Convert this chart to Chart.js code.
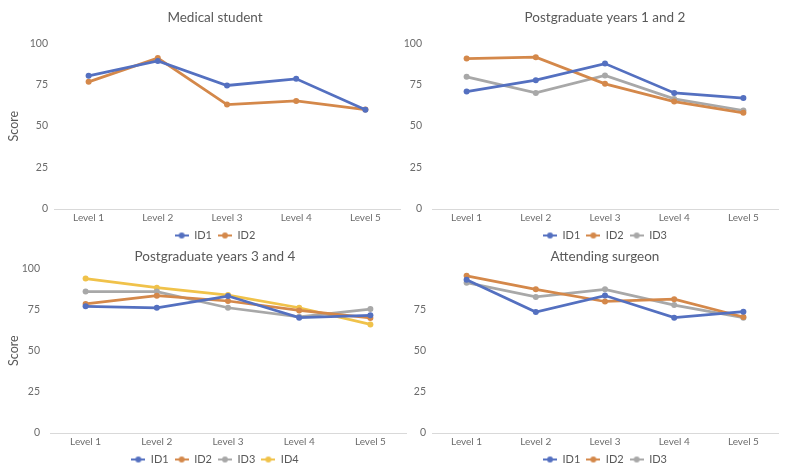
<!DOCTYPE html>
<html>
<head>
<meta charset="utf-8">
<script src="https://cdn.jsdelivr.net/npm/chart.js@4.4.1/dist/chart.umd.min.js"></script>
<style>
  html, body { margin: 0; padding: 0; background: #fff; overflow: hidden; }
  #wrap { position: relative; width: 800px; height: 473px; overflow: hidden; }
  canvas { position: absolute; }
</style>
</head>
<body>
<div id="wrap">
  <canvas id="c1" width="430" height="251" style="left:0;top:0"></canvas>
  <canvas id="c2" width="410" height="251" style="left:400px;top:0"></canvas>
  <canvas id="c3" width="430" height="236" style="left:0;top:239px"></canvas>
  <canvas id="c4" width="410" height="236" style="left:400px;top:239px"></canvas>
</div>
<script>
// Datos
const levels = ['Level 1', 'Level 2', 'Level 3', 'Level 4', 'Level 5'];
const yTicks = [0, 25, 50, 75, 100];

// Medical student
const msID1 = [80.3, 89.3, 74.5, 78.5, 59.8];
const msID2 = [76.7, 91.0, 63.0, 65.2, 60.0];

// Postgraduate years 1 and 2
const pg12ID1 = [70.8, 77.7, 87.7, 70.0, 66.9];
const pg12ID2 = [90.7, 91.6, 75.5, 64.8, 58.0];
const pg12ID3 = [79.7, 70.0, 80.5, 66.4, 59.4];

// Postgraduate years 3 and 4
const pg34ID1 = [76.9, 76.0, 83.1, 70.0, 71.4];
const pg34ID2 = [78.3, 83.3, 80.1, 74.4, 69.8];
const pg34ID3 = [85.8, 85.8, 76.0, 70.5, 75.2];
const pg34ID4 = [93.7, 88.2, 83.7, 76.0, 65.9];

// Attending surgeon
const atID1 = [93.0, 73.4, 83.4, 70.0, 73.6];
const atID2 = [95.4, 87.2, 79.8, 81.2, 70.4];
const atID3 = [91.2, 82.6, 87.2, 77.6, 70.0];

const colors = {
    ID1: '#5470C0',
    ID2: '#D4884A',
    ID3: '#A8A8A8',
    ID4: '#F0C24A'
};

const FONT = 'Lato, "Open Sans", sans-serif';

// Marcador de leyenda: línea corta con punto
function legendMarker(color) {
    const c = document.createElement('canvas');
    c.width = 14;
    c.height = 8;
    const g = c.getContext('2d');
    g.strokeStyle = color;
    g.lineWidth = 2;
    g.beginPath();
    g.moveTo(0, 4);
    g.lineTo(14, 4);
    g.stroke();
    g.fillStyle = color;
    g.beginPath();
    g.arc(7, 4, 3, 0, Math.PI * 2);
    g.fill();
    return c;
}

function makeDataset(label, data) {
    return {
        label: label,
        data: data,
        borderColor: colors[label],
        backgroundColor: colors[label],
        borderWidth: 2.75,
        pointRadius: 3,
        pointBorderWidth: 0,
        pointBackgroundColor: colors[label],
        tension: 0,
        fill: false
    };
}

function makePanel(id, title, series, cfg) {
    const ctx = document.getElementById(id);
    const datasets = Object.keys(series).map(k => makeDataset(k, series[k]));
    return new Chart(ctx, {
        type: 'line',
        data: { labels: levels, datasets: datasets },
        options: {
            responsive: false,
            animation: false,
            layout: { padding: 0 },
            plugins: {
                title: {
                    display: true,
                    text: title,
                    color: '#595959',
                    font: { family: FONT, size: 13.5, weight: 'normal' },
                    padding: { top: 10, bottom: cfg.titleBottom }
                },
                legend: {
                    position: 'bottom',
                    labels: {
                        usePointStyle: true,
                        pointStyleWidth: 14,
                        padding: 6,
                        color: '#595959',
                        font: { family: FONT, size: 11 },
                        generateLabels: chart => Chart.defaults.plugins.legend.labels
                            .generateLabels(chart)
                            .map(l => Object.assign(l, { pointStyle: legendMarker(colors[l.text]) }))
                    }
                },
                tooltip: { enabled: false }
            },
            scales: {
                x: {
                    offset: true,
                    grid: { display: false, drawTicks: false, offset: true },
                    border: { display: true, color: '#D9D9D9', width: 1 },
                    ticks: {
                        color: '#6B6B6B',
                        padding: 3,
                        maxRotation: 0,
                        font: { family: FONT, size: 10 }
                    },
                    afterFit: s => { s.height = 15; }
                },
                y: {
                    min: 0,
                    max: 100,
                    afterBuildTicks: s => { s.ticks = yTicks.map(v => ({ value: v })); },
                    grid: { display: false, drawTicks: false },
                    border: { display: false },
                    ticks: {
                        color: '#6B6B6B',
                        padding: cfg.tickPad,
                        font: { family: FONT, size: 10.5 },
                        callback: v => (cfg.hideTop && v === 100) ? '' : v
                    },
                    title: {
                        display: cfg.yTitle,
                        text: 'Score',
                        color: '#595959',
                        font: { family: FONT, size: 12.5 },
                        padding: { top: 6, bottom: 0 }
                    },
                    afterFit: s => { s.width = cfg.leftW; }
                },
                // eje invisible para centrar título y leyenda como en el original
                yR: {
                    position: 'right',
                    display: true,
                    grid: { display: false, drawTicks: false },
                    border: { display: false },
                    ticks: { display: false },
                    afterFit: s => { s.width = cfg.rightW; }
                }
            }
        }
    });
}

makePanel('c1', 'Medical student', { ID1: msID1, ID2: msID2 },
    { titleBottom: 17, tickPad: 6, leftW: 54, rightW: 30, yTitle: true, hideTop: false });

makePanel('c2', 'Postgraduate years 1 and 2', { ID1: pg12ID1, ID2: pg12ID2, ID3: pg12ID3 },
    { titleBottom: 17, tickPad: 10, leftW: 32, rightW: 32, yTitle: false, hideTop: false });

makePanel('c3', 'Postgraduate years 3 and 4', { ID1: pg34ID1, ID2: pg34ID2, ID3: pg34ID3, ID4: pg34ID4 },
    { titleBottom: 3, tickPad: 10, leftW: 50, rightW: 24, yTitle: true, hideTop: false });

makePanel('c4', 'Attending surgeon', { ID1: atID1, ID2: atID2, ID3: atID3 },
    { titleBottom: 3, tickPad: 6, leftW: 32, rightW: 32, yTitle: false, hideTop: true });
</script>
</body>
</html>
